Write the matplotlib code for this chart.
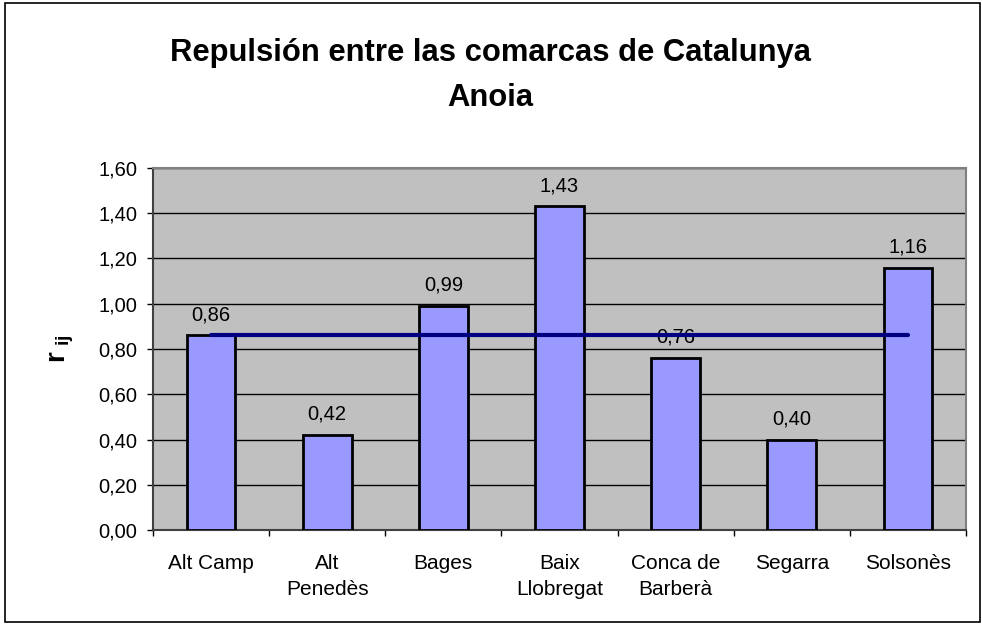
import matplotlib
matplotlib.use("Agg")
import matplotlib.pyplot as plt
from matplotlib.patches import Rectangle
import numpy as np

categories = ["Alt Camp", "Alt\nPenedès", "Bages", "Baix\nLlobregat", "Conca de\nBarberà", "Segarra", "Solsonès"]
values = [0.86, 0.42, 0.99, 1.43, 0.76, 0.40, 1.16]
mean_value = [0.86] * len(categories)
y_ticks = [0.0, 0.2, 0.4, 0.6, 0.8, 1.0, 1.2, 1.4, 1.6]

plt.rcParams['font.family'] = ['Liberation Sans', 'DejaVu Sans']
plt.rcParams['mathtext.fontset'] = 'custom'
plt.rcParams['mathtext.rm'] = 'Liberation Sans'
plt.rcParams['mathtext.bf'] = 'Liberation Sans:bold'

fig = plt.figure(figsize=(9.82, 6.24), dpi=100)
fig.patches.append(Rectangle((0.005, 0.004), 0.993, 0.991, transform=fig.transFigure,
                             fill=False, edgecolor='black', linewidth=1.2))

ax = fig.add_axes([0.1558, 0.1506, 0.8279, 0.5802])
ax.set_facecolor('#C0C0C0')

x = np.arange(len(categories))
ax.bar(x, values, width=0.42, color='#9999FF', edgecolor='black', linewidth=2, zorder=3)
ax.plot(x, mean_value, color='#000080', linewidth=3, solid_capstyle='round', zorder=5)

for xi, v in zip(x, values):
    ax.annotate(f"{v:.2f}".replace('.', ','), (xi, v), xytext=(0, 8), textcoords='offset points',
                ha='center', va='bottom', fontsize=14.5, zorder=4)

ax.set_xlim(-0.5, len(categories) - 0.5)
ax.set_ylim(0, 1.6)
ax.set_yticks(y_ticks)
ax.set_yticklabels([f"{t:.2f}".replace('.', ',') for t in y_ticks], fontsize=14.5)
ax.yaxis.grid(True, color='black', linewidth=1)
ax.set_axisbelow(True)

ax.set_xticks(x)
ax.set_xticklabels(categories, fontsize=15, linespacing=1.5, va='top')
ax.tick_params(axis='x', which='major', length=0, pad=17)
ax.set_xticks(np.arange(len(categories) + 1) - 0.5, minor=True)
ax.tick_params(axis='x', which='minor', length=4.5, width=1, direction='out')
ax.tick_params(axis='y', length=4.5, width=1, direction='out', pad=7)

for s in ['top', 'right']:
    ax.spines[s].set_color('#808080')
    ax.spines[s].set_linewidth(1.5)
ax.spines['left'].set_color('#404040')
ax.spines['left'].set_linewidth(1.5)
ax.spines['bottom'].set_color('#404040')
ax.spines['bottom'].set_linewidth(1.5)

ax.set_ylabel(r'$\mathbf{r}_{\ \mathbf{ij}}$', fontsize=20, labelpad=16)

fig.text(0.499, 0.879, "Repulsión entre las comarcas de Catalunya\nAnoia", ha='center', va='center',
         fontsize=22.3, fontweight='bold', linespacing=1.65)

fig.savefig('out.png', dpi=100)
